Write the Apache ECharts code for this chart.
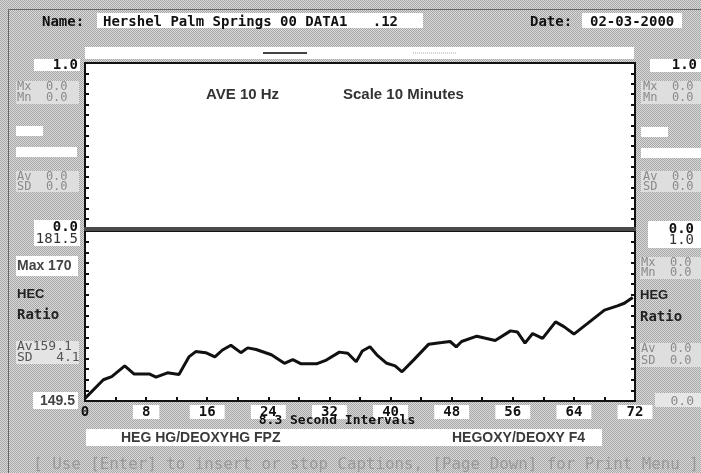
<!DOCTYPE html>
<html>
<head>
<meta charset="utf-8">
<script src="https://cdn.jsdelivr.net/npm/echarts@6/dist/echarts.min.js"></script>
<style>
  html, body { margin: 0; padding: 0; background: #c2c2c2; }
  #chart { width: 701px; height: 473px; }
</style>
</head>
<body>
<div id="chart"></div>
<script>
// sample positions, in 8.3 second intervals
var intervals = [0, 2.4, 3.5, 5.2, 6.4, 8.4, 9.3, 10.8, 12.3, 13.6, 14.5, 15.8, 17.0, 18.0,
  19.1, 20.4, 21.3, 22.4, 24.4, 26.1, 27.2, 28.3, 30.3, 31.6, 33.3, 34.4, 35.5, 36.3,
  37.3, 38.2, 39.5, 40.6, 41.5, 43.0, 45.0, 46.7, 47.8, 48.6, 49.3, 51.3, 53.7, 55.7,
  56.6, 57.6, 58.6, 59.9, 61.6, 62.7, 64.0, 65.8, 68.0, 69.7, 70.6, 71.7];
// HEG ratio
var hegRatio = [150.0, 153.5, 154.1, 156.1, 154.6, 154.6, 154.0, 154.8, 154.5, 157.8, 158.8,
  158.6, 157.8, 159.1, 160.0, 158.6, 159.5, 159.2, 158.2, 156.6, 157.3, 156.5, 156.5,
  157.2, 158.7, 158.5, 156.9, 158.9, 159.7, 158.2, 156.6, 156.1, 155.0, 157.2, 160.2,
  160.5, 160.7, 159.7, 160.7, 161.7, 160.9, 162.7, 162.5, 160.4, 162.2, 161.3, 164.4,
  163.5, 162.1, 164.1, 166.6, 167.4, 167.9, 169.0];
var xLabels = [0, 8, 16, 24, 32, 40, 48, 56, 64, 72];
var ratioMin = 149.5;
var ratioMax = 181.5;

var mono = '"DejaVu Sans Mono", monospace';
var sans = '"Liberation Sans", Arial, sans-serif';

// dithered grey, like the old screen
var dither = document.createElement('canvas');
dither.width = 2;
dither.height = 2;
var dctx = dither.getContext('2d');
dctx.fillStyle = '#dadada';
dctx.fillRect(0, 0, 2, 2);
dctx.fillStyle = '#a6a6a6';
dctx.fillRect(0, 0, 1, 1);
dctx.fillRect(1, 1, 1, 1);

function box(x, y, w, h, fill) {
  return { type: 'rect', shape: { x: x, y: y, width: w, height: h }, style: { fill: fill || '#fff' }, z: 5 };
}
function txt(x, y, s, o) {
  o = o || {};
  return {
    type: 'text', x: x, y: y, z: 10,
    style: {
      text: s,
      fill: o.color || '#111',
      font: (o.weight || 'bold') + ' ' + (o.size || 14) + 'px ' + (o.family || mono),
      textAlign: o.align || 'left',
      textVerticalAlign: 'middle'
    }
  };
}

var chart = echarts.init(document.getElementById('chart'));

var points = intervals.map(function (x, i) { return [x, hegRatio[i]]; });

var graphics = [
  // outer frame, left and top edges only
  { type: 'polyline', shape: { points: [[8.5, 473], [8.5, 9.5], [701, 9.5]] }, style: { fill: 'none', stroke: '#666', lineWidth: 1 }, z: 1 },
  // header
  txt(42, 22, 'Name:'),
  box(97, 13, 326, 15),
  txt(103, 22, 'Hershel Palm Springs 00 DATA1   .12'),
  txt(530, 22, 'Date:'),
  box(582, 13, 100, 15),
  txt(590, 22, '02-03-2000'),
  box(85, 47, 549, 12),
  { type: 'line', shape: { x1: 263, y1: 53, x2: 307, y2: 53 }, style: { stroke: '#444', lineWidth: 2 }, z: 6 },
  { type: 'line', shape: { x1: 413, y1: 53, x2: 457, y2: 53 }, style: { stroke: '#aaa', lineWidth: 1, lineDash: [1, 1] }, z: 6 },

  // left column, upper panel
  box(34, 59, 46, 12), txt(78, 65, '1.0', { align: 'right' }),
  box(16, 81, 63, 23, '#dedede'),
  txt(17, 87, 'Mx  0.0', { color: '#8a8a8a', weight: 'normal', size: 12 }),
  txt(17, 98, 'Mn  0.0', { color: '#8a8a8a', weight: 'normal', size: 12 }),
  box(16, 126, 27, 10),
  box(16, 147, 61, 10),
  box(16, 171, 63, 21, '#dedede'),
  txt(17, 177, 'Av  0.0', { color: '#8a8a8a', weight: 'normal', size: 12 }),
  txt(17, 187, 'SD  0.0', { color: '#8a8a8a', weight: 'normal', size: 12 }),
  box(34, 220, 46, 26),
  txt(78, 227, '0.0', { align: 'right' }),
  txt(78, 239, '181.5', { align: 'right', weight: 'normal', color: '#333' }),

  // left column, lower panel
  box(16, 256, 62, 20),
  txt(17, 266, 'Max 170', { family: sans, size: 14, color: '#444' }),
  txt(17, 294, 'HEC', { family: sans, size: 13, color: '#222' }),
  txt(17, 315, 'Ratio', { size: 14, color: '#222' }),
  box(16, 341, 63, 23, '#e4e4e4'),
  txt(17, 347, 'Av159.1', { color: '#555', weight: 'normal', size: 13 }),
  txt(17, 358, 'SD   4.1', { color: '#555', weight: 'normal', size: 13 }),
  box(33, 392, 45, 17),
  txt(75, 401, '149.5', { family: sans, size: 14, color: '#444', align: 'right' }),

  // right column, upper panel
  box(650, 59, 51, 13), txt(697, 65, '1.0', { align: 'right' }),
  box(641, 81, 60, 23, '#dedede'),
  txt(643, 87, 'Mx  0.0', { color: '#8a8a8a', weight: 'normal', size: 12 }),
  txt(643, 98, 'Mn  0.0', { color: '#8a8a8a', weight: 'normal', size: 12 }),
  box(641, 127, 27, 10),
  box(641, 148, 60, 10),
  box(641, 171, 60, 21, '#dedede'),
  txt(643, 177, 'Av  0.0', { color: '#8a8a8a', weight: 'normal', size: 12 }),
  txt(643, 187, 'SD  0.0', { color: '#8a8a8a', weight: 'normal', size: 12 }),
  box(648, 221, 53, 27),
  txt(694, 229, '0.0', { align: 'right' }),
  txt(694, 240, '1.0', { align: 'right', weight: 'normal', color: '#333' }),

  // right column, lower panel
  box(640, 257, 61, 22, '#dedede'),
  txt(641, 263, 'Mx  0.0', { color: '#8a8a8a', weight: 'normal', size: 12 }),
  txt(641, 273, 'Mn  0.0', { color: '#8a8a8a', weight: 'normal', size: 12 }),
  txt(640, 295, 'HEG', { family: sans, size: 13, color: '#222' }),
  txt(640, 317, 'Ratio', { size: 14, color: '#222' }),
  box(640, 343, 61, 24, '#dedede'),
  txt(641, 349, 'Av  0.0', { color: '#8a8a8a', weight: 'normal', size: 12 }),
  txt(641, 361, 'SD  0.0', { color: '#8a8a8a', weight: 'normal', size: 12 }),
  box(655, 393, 46, 14, '#e6e6e6'),
  txt(694, 402, '0.0', { align: 'right', color: '#8a8a8a', weight: 'normal', size: 13 }),

  // inner titles
  txt(206, 95, 'AVE 10 Hz', { family: sans, size: 15, color: '#333' }),
  txt(343, 95, 'Scale 10 Minutes', { family: sans, size: 15, color: '#333' }),

  // separator between the panels
  box(84, 227, 552, 4, '#4a4a4a'),

  // bottom strip
  txt(337, 421, '8.3 Second Intervals', { align: 'center', size: 13 }),
  box(86, 429, 516, 17),
  txt(121, 438, 'HEG HG/DEOXYHG FPZ', { family: sans, size: 14, color: '#3a3a3a' }),
  txt(452, 438, 'HEGOXY/DEOXY F4', { family: sans, size: 14, color: '#3a3a3a' }),
  txt(366, 465, '[ Use [Enter] to insert or stop Captions, [Page Down] for Print Menu ]',
    { align: 'center', weight: 'normal', size: 15.8, color: '#9a9a9a' })
];

function tickAxis(grid, pos, max, interval) {
  return {
    gridIndex: grid, position: pos, type: 'value', min: 0, max: max, interval: interval,
    axisLine: { show: false },
    axisTick: { show: true, inside: true, length: 4, lineStyle: { color: '#111', width: 2 } },
    axisLabel: { show: false },
    splitLine: { show: false }
  };
}

chart.setOption({
  backgroundColor: { image: dither, repeat: 'repeat' },
  animation: false,
  grid: [
    { left: 85, top: 63, width: 550, height: 166, show: true, backgroundColor: '#fff', borderColor: '#111', borderWidth: 2 },
    { left: 85, top: 231, width: 550, height: 170, show: true, backgroundColor: '#fff', borderColor: '#111', borderWidth: 2 }
  ],
  xAxis: [
    { gridIndex: 0, type: 'value', min: 0, max: 72, show: false },
    {
      gridIndex: 1, type: 'value', min: 0, max: 72, interval: 8,
      axisLine: { lineStyle: { color: '#111', width: 2 } },
      axisTick: { inside: true, length: 4, lineStyle: { color: '#111', width: 2 } },
      minorTick: { show: true, splitNumber: 2, length: 4, lineStyle: { color: '#111', width: 2 } },
      splitLine: { show: false },
      axisLabel: {
        margin: 4,
        color: '#111',
        fontFamily: mono,
        fontWeight: 'bold',
        fontSize: 14,
        formatter: function (v) {
          return xLabels.indexOf(v) === 0 ? '{p|' + v + '}' : '{w|' + v + '}';
        },
        rich: {
          p: { fontFamily: mono, fontWeight: 'bold', fontSize: 14, color: '#111' },
          w: { fontFamily: mono, fontWeight: 'bold', fontSize: 14, color: '#111', backgroundColor: '#fff', padding: [0, 9, 0, 9] }
        }
      }
    }
  ],
  yAxis: [
    tickAxis(0, 'left', 1, 0.0625),
    tickAxis(0, 'right', 1, 0.0625),
    { gridIndex: 1, type: 'value', min: ratioMin, max: ratioMax, show: false },
    tickAxis(1, 'left', 16, 1),
    tickAxis(1, 'right', 16, 1)
  ],
  series: [
    {
      type: 'line',
      xAxisIndex: 1,
      yAxisIndex: 2,
      data: points,
      showSymbol: false,
      lineStyle: { color: '#111', width: 3 },
      z: 3
    }
  ],
  graphic: graphics
});
</script>
</body>
</html>
